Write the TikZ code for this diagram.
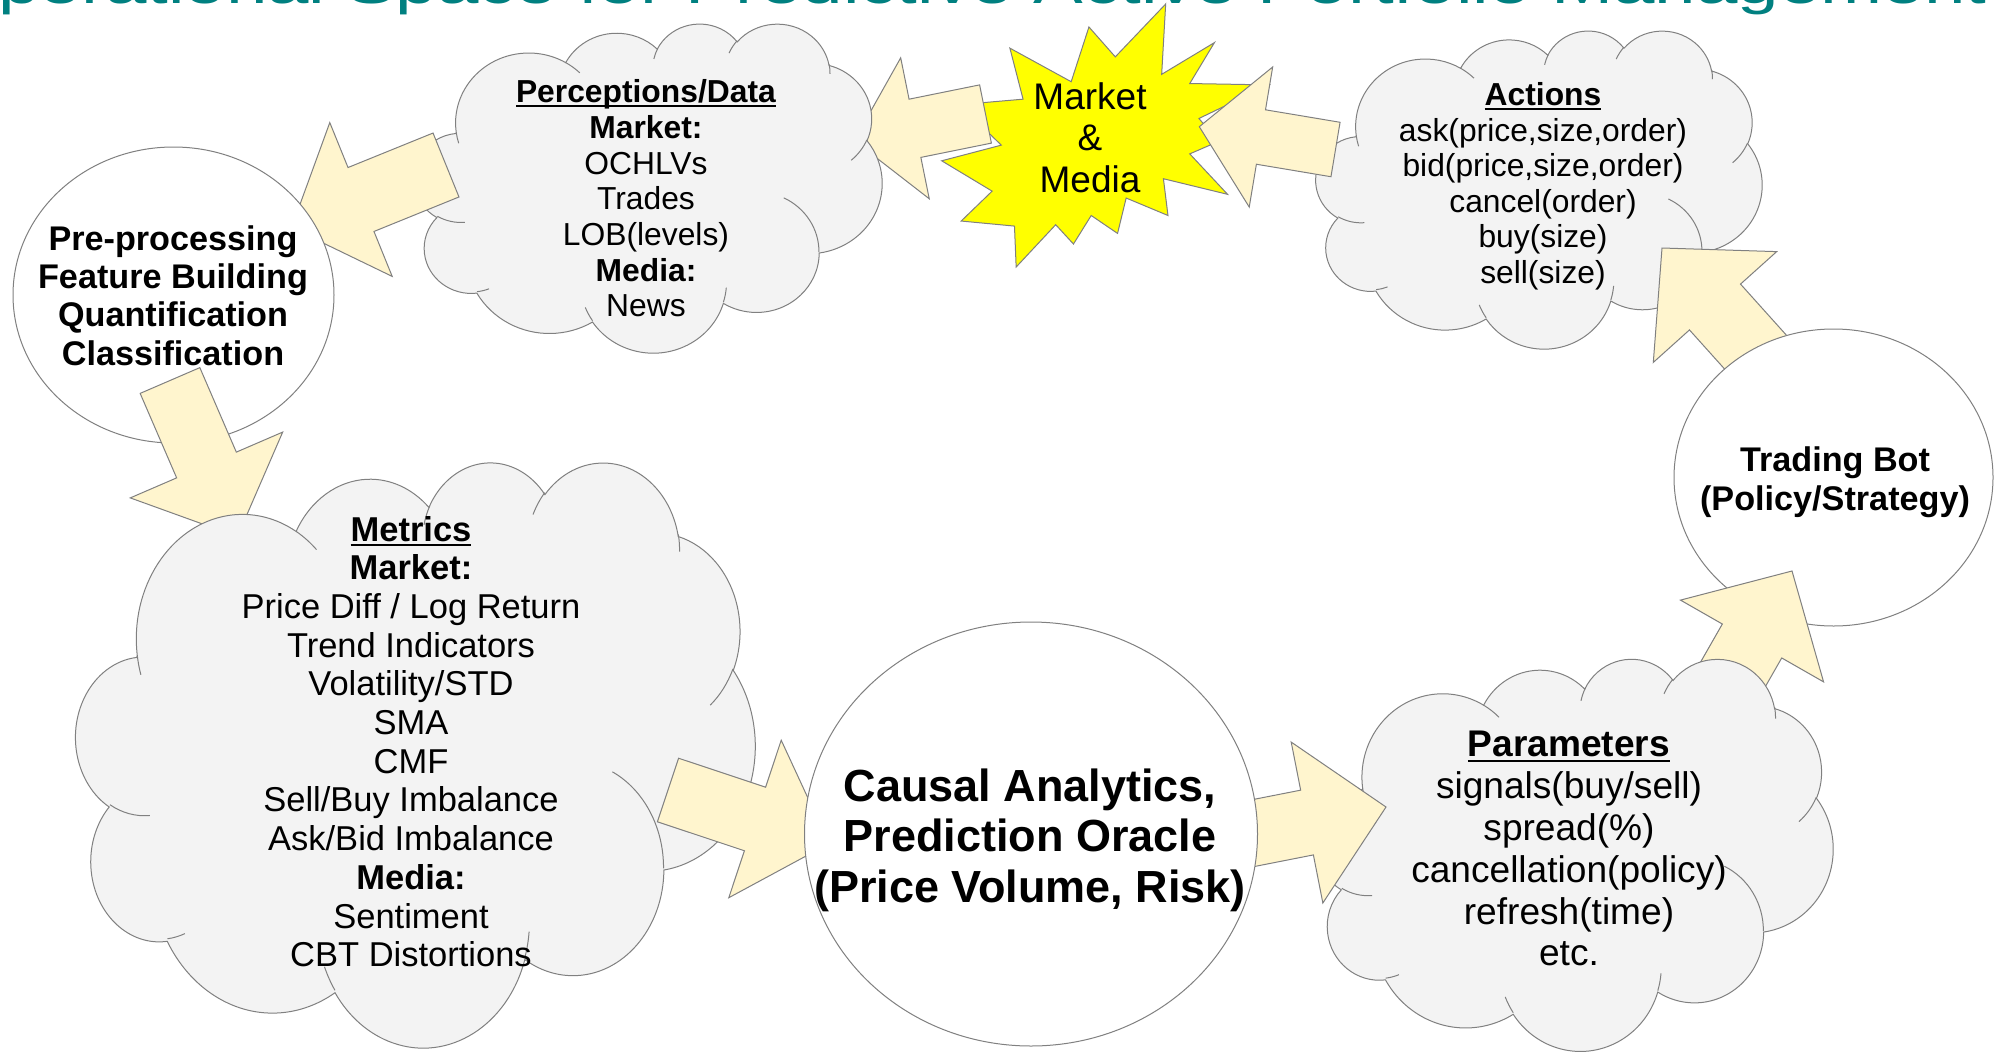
\documentclass[tikz,border=0pt]{standalone}
\usepackage{fontspec}
\setmainfont{Liberation Sans}[Ligatures=NoCommon]
\usepackage{graphicx}
\usetikzlibrary{calc,shapes.geometric}
\definecolor{cream}{HTML}{FFF5CE}
\definecolor{cloudgray}{HTML}{F3F3F3}
\definecolor{edgegray}{HTML}{808080}
\definecolor{titleteal}{HTML}{008080}
\definecolor{burstyellow}{HTML}{FFFF00}
\tikzset{
  grayedge/.style={draw=edgegray, line width=1pt},
  cloudbody/.style={grayedge, fill=cloudgray},
  cloudinner/.style={grayedge},
  blockarrow/.style={grayedge, fill=cream, line join=miter},
  burstshape/.style={grayedge, fill=burstyellow, line join=miter},
  ovalbox/.style={ellipse, grayedge, fill=white, inner sep=0pt},
  txt/.style={align=center, inner sep=0pt, anchor=north, text=black},
}
% parametric angles of the cloud arcs (visual angle -> ellipse parameter)
\newcommand\cldcalc[5]{%
  \pgfmathsetmacro\cldta{atan2(#2*sin(#4),#3*cos(#4))}%
  \pgfmathsetmacro\cldtb{atan2(#2*sin(#4+#5),#3*cos(#4+#5))}%
  \pgfmathsetmacro\cldtd{\cldtb-\cldta}%
  \pgfmathsetmacro\cldtd{\cldtd<0 ? \cldtd+360 : \cldtd}%
  \expandafter\xdef\csname cld#1s\endcsname{\cldta}%
  \expandafter\xdef\csname cld#1d\endcsname{\cldtd}%
}
\cldcalc{A}{6753}{9190}{-190.4875}{123.7805}
\cldcalc{B}{5333}{7267}{-144.1024}{89.9452}
\cldcalc{C}{4365}{5945}{-145.8079}{99.7230}
\cldcalc{D}{4857}{6595}{-130.9861}{117.2417}
\cldcalc{E}{5333}{7273}{-78.7089}{109.0269}
\cldcalc{F}{6775}{9220}{-46.2673}{130.2690}
\cldcalc{G}{5785}{7867}{0.6250}{114.0333}
\cldcalc{H}{6752}{9215}{22.4516}{115.1726}
\cldcalc{I}{7720}{10543}{66.2426}{75.7110}
\cldcalc{J}{4360}{5918}{-274.9421}{146.7356}
\cldcalc{K}{4345}{5945}{-246.8285}{152.5189}
\cldcalc{Pa}{4345}{5945}{86.7420}{26.4295}
\cldcalc{Pb}{4360}{5918}{73.6105}{11.4475}
\cldcalc{Pc}{6752}{9215}{137.6242}{14.0811}
\cldcalc{Pd}{6752}{9215}{6.4533}{15.9984}
\cldcalc{Pe}{5785}{7867}{-70.2924}{70.9174}
\cldcalc{Pf}{5333}{7273}{30.3180}{27.7515}
\cldcalc{Pg}{4857}{6595}{-13.7443}{14.8589}
\cldcalc{Ph}{4857}{6595}{-149.1815}{18.1954}
\cldcalc{Pi}{4365}{5945}{-163.4943}{17.6864}
\cldcalc{Pj}{6753}{9190}{-66.7070}{12.3194}
\cldcalc{Pk}{6753}{9190}{157.6544}{11.8582}
\newcommand\ulbox[1]{\setbox0=\hbox{#1}\rlap{\rule[-0.14em]{\wd0}{0.06em}}\box0}
% cloud: name, left, top, width, height (pixels)
\newcommand\cloudat[5]{%
  \pgfmathsetmacro\cldw{#4/100}%
  \pgfmathsetmacro\cldh{#5/100}%
  \begin{scope}[shift={(#2,#3)}, x=\cldw pt, y=-\cldh pt]
    \path[cloudbody] (9.028,33.264)
      arc[start angle=\cldAs, delta angle=\cldAd, x radius=15.632, y radius=21.273]
      arc[start angle=\cldBs, delta angle=\cldBd, x radius=12.345, y radius=16.822]
      arc[start angle=\cldCs, delta angle=\cldCd, x radius=10.104, y radius=13.762]
      arc[start angle=\cldDs, delta angle=\cldDd, x radius=11.243, y radius=15.266]
      arc[start angle=\cldEs, delta angle=\cldEd, x radius=12.345, y radius=16.836]
      arc[start angle=\cldFs, delta angle=\cldFd, x radius=15.683, y radius=21.343]
      arc[start angle=\cldGs, delta angle=\cldGd, x radius=13.391, y radius=18.211]
      arc[start angle=\cldHs, delta angle=\cldHd, x radius=15.630, y radius=21.331]
      arc[start angle=\cldIs, delta angle=\cldId, x radius=17.870, y radius=24.405]
      arc[start angle=\cldJs, delta angle=\cldJd, x radius=10.093, y radius=13.699]
      arc[start angle=\cldKs, delta angle=\cldKd, x radius=10.058, y radius=13.762]
      -- cycle;
    \path[cloudinner]
      (10.863,60.595) arc[start angle=\cldPas, delta angle=\cldPad, x radius=10.058, y radius=13.762]
      (16.037,80.785) arc[start angle=\cldPbs, delta angle=\cldPbd, x radius=10.093, y radius=13.699]
      (38.144,90.486) arc[start angle=\cldPcs, delta angle=\cldPcd, x radius=15.630, y radius=21.331]
      (66.729,80.442) arc[start angle=\cldPds, delta angle=\cldPdd, x radius=15.630, y radius=21.331]
      (79.002,53.134) arc[start angle=\cldPes, delta angle=\cldPed, x radius=13.391, y radius=18.211]
      (96.755,35.542) arc[start angle=\cldPfs, delta angle=\cldPfd, x radius=12.345, y radius=16.836]
      (88.713,12.560) arc[start angle=\cldPgs, delta angle=\cldPgd, x radius=11.243, y radius=15.266]
      (67.310,9.148) arc[start angle=\cldPhs, delta angle=\cldPhd, x radius=11.243, y radius=15.266]
      (51.252,10.926) arc[start angle=\cldPis, delta angle=\cldPid, x radius=10.104, y radius=13.762]
      (32.407,12.019) arc[start angle=\cldPjs, delta angle=\cldPjd, x radius=15.632, y radius=21.273]
      (9.553,36.549) arc[start angle=\cldPks, delta angle=\cldPkd, x radius=15.632, y radius=21.273];
    \coordinate (#1) at (50,50);
  \end{scope}
}
% block arrow: tail, tip, half shaft width, half head width, head length, name
\newcommand\drawblockarrow[6]{%
  \coordinate (#6) at ($(#2)!#5pt!(#1)$);
  \path[blockarrow] ($(#1)!#3pt!90:(#2)$) -- ($(#6)!#3pt!90:(#2)$)
    -- ($(#6)!#4pt!90:(#2)$) -- (#2) -- ($(#6)!#4pt!-90:(#2)$)
    -- ($(#6)!#3pt!-90:(#2)$) -- ($(#1)!#3pt!-90:(#2)$) -- cycle;
}
\begin{document}
\begin{tikzpicture}[x=1pt, y=-1pt]
\useasboundingbox (0,0) rectangle (1996,1052);
\fill[white] (0,0) rectangle (1996,1052);
\clip (0,0) rectangle (1996,1052);

% title (cut off by the top edge)
\node[anchor=base west, inner sep=0pt, text=titleteal, font=\fontsize{55}{66}\selectfont] (title) at (-60,3.5)
  {\scalebox{1.355}[1]{Operational Space for Predictive Active Portfolio Management}};

% arrow end points
\coordinate (aT) at (985.5,114);   \coordinate (aP) at (854.2,140.6);
\coordinate (bT) at (1335.5,149.5); \coordinate (bP) at (1199.3,126.7);
\coordinate (cT) at (446,165);     \coordinate (cP) at (291.5,227.7);
\coordinate (dT) at (170,380.5);   \coordinate (dP) at (237.4,536.6);
\coordinate (eT) at (668,790);     \coordinate (eP) at (829,843.6);
\coordinate (fT) at (1218.7,839.9); \coordinate (fP) at (1386,807);
\coordinate (gT) at (1702.4,727.8); \coordinate (gP) at (1792,571);
\coordinate (hT) at (1768.4,366.5); \coordinate (hP) at (1662,248);

% Market & Media explosion
\begin{scope}[shift={(941.7,4)}, x=3.271pt, y=-2.63pt]
  \path[burstshape] (53.065,20.102) -- (68.472,0) -- (67.245,26.745) -- (83.366,14.685)
    -- (75.833,30.241) -- (100,30.764) -- (78.634,43.528) -- (84.583,52.269)
    -- (75.833,56.991) -- (87.394,72.370) -- (67.778,66.435) -- (69.176,80.417)
    -- (56.389,73.773) -- (53.759,87.231) -- (45.704,80.417) -- (40.278,91.259)
    -- (34.847,83.912) -- (22.764,100) -- (22.245,84.444) -- (5.949,82.523)
    -- (15.417,71.157) -- (0,59.616) -- (18.218,53.667) -- (5.426,38.287)
    -- (24.870,36.190) -- (20.843,16.782) -- (39.583,29.546) -- (45.009,8.736) -- cycle;
  \coordinate (burst) at (50,50);
\end{scope}
\node[txt, font=\fontsize{37}{41.5}\selectfont] (burstlabel) at (1090,79.8)
  {\strut Market\\ \&\\ Media};

% Media -> Perceptions
\drawblockarrow{aT}{aP}{29.7}{71.9}{62}{aB}

% Perceptions cloud
\cloudat{percep}{414}{23}{468}{329}
\node[txt, font=\fontsize{31.8}{35.7}\selectfont] (perceptext) at (646,77.5)
  {\strut\ulbox{\textbf{Perceptions/Data}}\\ \textbf{Market:}\\ OCHLVs\\ Trades\\ LOB(levels)\\ \textbf{Media:}\\ News};

% Perceptions -> Pre-processing
\drawblockarrow{cT}{cP}{34.5}{83}{75}{cB}

% Pre-processing ellipse
\node[ovalbox, minimum width=321pt, minimum height=296pt] (preproc) at (173.5,295) {};
\node[txt, font=\fontsize{34.2}{38.4}\selectfont\bfseries] (preproctext) at (173,223.1)
  {\strut Pre-processing\\ Feature Building\\ Quantification\\ Classification};

% Pre-processing -> Metrics
\drawblockarrow{dT}{dP}{32.5}{83}{78}{dB}

% Metrics cloud
\cloudat{metrics}{76}{461}{679}{585}
\node[txt, font=\fontsize{34.5}{38.7}\selectfont] (metricstext) at (411,513.7)
  {\strut\ulbox{\textbf{Metrics}}\\ \textbf{Market:}\\ Price Diff / Log Return\\ Trend Indicators\\
   Volatility/STD\\ SMA\\ CMF\\ Sell/Buy Imbalance\\ Ask/Bid Imbalance\\ \textbf{Media:}\\ Sentiment\\ CBT Distortions};

% Metrics -> Oracle
\drawblockarrow{eT}{eP}{33.5}{83}{78}{eB}

% Actions cloud
\cloudat{actions}{1316}{30}{446}{318}
\node[txt, font=\fontsize{31.8}{35.6}\selectfont] (actionstext) at (1543,80.4)
  {\strut\ulbox{\textbf{Actions}}\\ ask(price,size,order)\\ bid(price,size,order)\\ cancel(order)\\ buy(size)\\ sell(size)};

% Actions -> Market & Media
\drawblockarrow{bT}{bP}{27.6}{71}{62.5}{bB}

% Trading Bot -> Actions
\drawblockarrow{hT}{hP}{34.3}{82.9}{79.3}{hB}

% Trading Bot ellipse
\node[ovalbox, minimum width=319pt, minimum height=297pt] (bot) at (1833.5,477.5) {};
\node[txt, font=\fontsize{34.2}{39}\selectfont\bfseries] (bottext) at (1835,444)
  {\strut Trading Bot\\ (Policy/Strategy)};

% Parameters -> Trading Bot
\drawblockarrow{gT}{gP}{34.2}{82.4}{80.6}{gB}

% Parameters cloud
\cloudat{params}{1316}{658}{517}{392}
\node[txt, font=\fontsize{37.1}{41.8}\selectfont] (paramstext) at (1569,727.5)
  {\strut\ulbox{\textbf{Parameters}}\\ signals(buy/sell)\\ spread(\%)\\ cancellation(policy)\\ refresh(time)\\ etc.};

% Oracle -> Parameters
\drawblockarrow{fT}{fP}{33}{82}{80.5}{fB}

% Oracle ellipse
\node[ovalbox, minimum width=453pt, minimum height=424pt] (oracle) at (1031,834) {};
\node[txt, font=\fontsize{45}{50.5}\selectfont\bfseries] (oracletext) at (1030,765.7)
  {\strut Causal Analytics,\\ Prediction Oracle\\ (Price Volume, Risk)};
\end{tikzpicture}
\end{document}
